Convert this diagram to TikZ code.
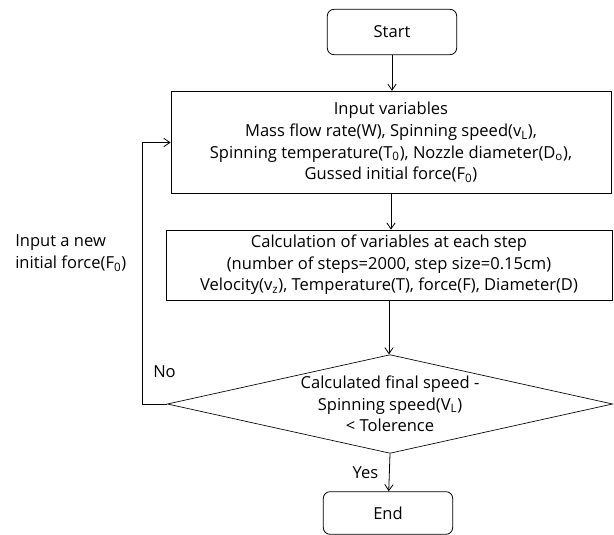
\documentclass[tikz,border=0pt]{standalone}
\usepackage{fontspec}
\setmainfont{Open Sans}
\usetikzlibrary{positioning,arrows.meta,shapes.geometric}
\newcommand{\flowfont}{\fontsize{12.4}{16.2}\selectfont}
\tikzset{
  >={Straight Barb[length=1.6mm,width=2.2mm]},
  flow/.style={->,line width=0.6pt},
  termbox/.style={draw,rounded corners=5pt,line width=0.6pt,
    minimum width=97pt,minimum height=34pt,font=\flowfont},
  procbox/.style={draw,line width=0.6pt,align=center,inner sep=0pt,
    font=\flowfont},
  decbox/.style={diamond,draw,line width=0.5pt,inner sep=0pt,aspect=4.5,
    align=center,font=\flowfont},
  flowlbl/.style={font=\flowfont,inner sep=0pt},
}

\begin{document}
\begin{tikzpicture}[x=0.75pt,y=-0.75pt]
  \useasboundingbox (0,0) rectangle (614,535);
  \node[termbox] (start) at (392,32) {Start};
  \node[procbox,minimum width=330pt,minimum height=77pt] (input) at (391,142.5)
    {Input variables\\
     Mass flow rate(W), Spinning speed(v\textsubscript{L}),\\
     Spinning temperature(T\textsubscript{0}), Nozzle diameter(D\textsubscript{o}),\\
     Gussed initial force(F\textsubscript{0})};
  \node[procbox,minimum width=334.5pt,minimum height=52.5pt] (calc) at (389,265)
    {Calculation of variables at each step\\
     (number of steps=2000, step size=0.15cm)\\
     Velocity(v\textsubscript{z}), Temperature(T), force(F), Diameter(D)};
  \node[decbox,minimum width=334pt,minimum height=74pt] (check) at (390,404)
    {Calculated final speed -\\
     Spinning speed(V\textsubscript{L})\\
     < Tolerence};
  \node[termbox,minimum height=32pt] (end) at (388,513) {End};
  \draw[flow] (start) -- (start |- input.north);
  \draw[flow] (input.south) -- (input.south |- calc.north);
  \draw[flow] (calc.south) -- (calc.south |- check.north);
  \draw[flow] (check.south) -- node[flowlbl,left=8pt] (yeslbl) {Yes} (end);
  \draw[flow] (check.west) -- ++(-25,0) coordinate (back) |- (input.west);
  \node[flowlbl,anchor=west] (nolbl) at (153,372) {No};
  \node[flowlbl,align=left,anchor=west] (newforce) at (15,253)
    {Input a new\\ initial force(F\textsubscript{0})};
\end{tikzpicture}
\end{document}
